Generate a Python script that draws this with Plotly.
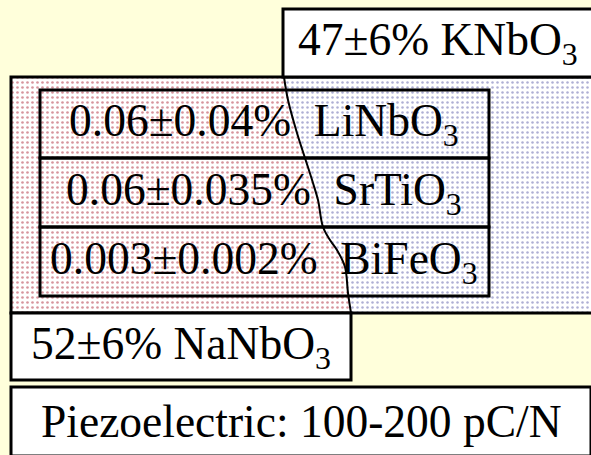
import plotly.graph_objects as go

# ---- content (labels) ----
dopant_pct = ["0.06±0.04%", "0.06±0.035%", "0.003±0.002%"]
dopant_names = ["LiNbO<sub>3</sub>", "SrTiO<sub>3</sub>", "BiFeO<sub>3</sub>"]
k_label = "47±6% KNbO<sub>3</sub>"
na_label = "52±6% NaNbO<sub>3</sub>"
property_label = "Piezoelectric: 100-200 pC/N"

# ---- geometry (pixel space) ----
W, H = 591, 455
BG = "#ffffdb"
FONT = "Liberation Serif"
FS = 45.5
# phase boundary between Na-rich (left) and K-rich (right) regions
bx = [284, 288, 297, 305, 313, 318, 323, 330, 337, 345, 348, 351]
by = [77, 100, 133, 158, 183, 200, 227, 240, 250, 267, 293, 313]

big = dict(x0=11, y0=77, x1=605, y1=313)
inner = dict(x0=40, x1=489, rows=[90, 158, 227, 296])
kbox = dict(x0=283, y0=9, x1=595, y1=77)
nabox = dict(x0=11, y0=313, x1=351, y1=380)
pbox = dict(x0=11, y0=387, x1=591, y1=456)

fig = go.Figure()

# left (Na) region with red dots
lx = [big["x0"]] + bx + [big["x0"]]
ly = [big["y0"]] + by + [big["y1"]]
fig.add_trace(go.Scatter(x=lx, y=ly, mode="lines", fill="toself", line=dict(width=0, color="rgba(0,0,0,0)"),
                         fillcolor="white",
                         fillpattern=dict(shape=".", fgcolor="#b02a3c", bgcolor="white", size=5, solidity=0.22),
                         hoverinfo="skip", showlegend=False))
# right (K) region with blue dots
rx = bx + [big["x1"], big["x1"]]
ry = by + [big["y1"], big["y0"]]
fig.add_trace(go.Scatter(x=rx, y=ry, mode="lines", fill="toself", line=dict(width=0, color="rgba(0,0,0,0)"),
                         fillcolor="white",
                         fillpattern=dict(shape=".", fgcolor="#6060aa", bgcolor="white", size=5, solidity=0.2),
                         hoverinfo="skip", showlegend=False))
# boundary curve
fig.add_trace(go.Scatter(x=bx, y=by, mode="lines", line=dict(color="black", width=2, shape="spline"),
                         hoverinfo="skip", showlegend=False))

shapes = []
def rect(d, fill=None, w=3):
    shapes.append(dict(type="rect", xref="x", yref="y", x0=d["x0"], y0=d["y0"], x1=d["x1"], y1=d["y1"],
                       line=dict(color="black", width=w), fillcolor=fill if fill else "rgba(0,0,0,0)",
                       layer="above"))

rect(big)
rows = inner["rows"]
for i in range(len(dopant_pct)):
    rect(dict(x0=inner["x0"], x1=inner["x1"], y0=rows[i], y1=rows[i + 1]))
rect(kbox, fill="white")
rect(nabox, fill="white")
rect(pbox, fill="white")

ann = []
def text(x, y, t):
    ann.append(dict(x=x, y=y, xref="x", yref="y", text=t, showarrow=False, xanchor="center", yanchor="middle",
                    font=dict(family=FONT, size=FS, color="black")))

cx = (inner["x0"] + inner["x1"]) / 2
for i in range(len(dopant_pct)):
    text(cx - 1, (rows[i] + rows[i + 1]) / 2, dopant_pct[i] + "\u00a0 " + dopant_names[i])
text(438, (kbox["y0"] + kbox["y1"]) / 2, k_label)
text(181, (nabox["y0"] + nabox["y1"]) / 2, na_label)
text(301, (pbox["y0"] + pbox["y1"]) / 2, property_label)

fig.update_layout(width=W, height=H, margin=dict(l=0, r=0, t=0, b=0),
                  paper_bgcolor=BG, plot_bgcolor=BG, shapes=shapes, annotations=ann,
                  xaxis=dict(range=[0, W], visible=False, fixedrange=True),
                  yaxis=dict(range=[H, 0], visible=False, fixedrange=True))
fig.write_html("out.html", config={"displayModeBar": False},
               post_script="document.body.style.margin='0';document.body.style.overflow='hidden';")
